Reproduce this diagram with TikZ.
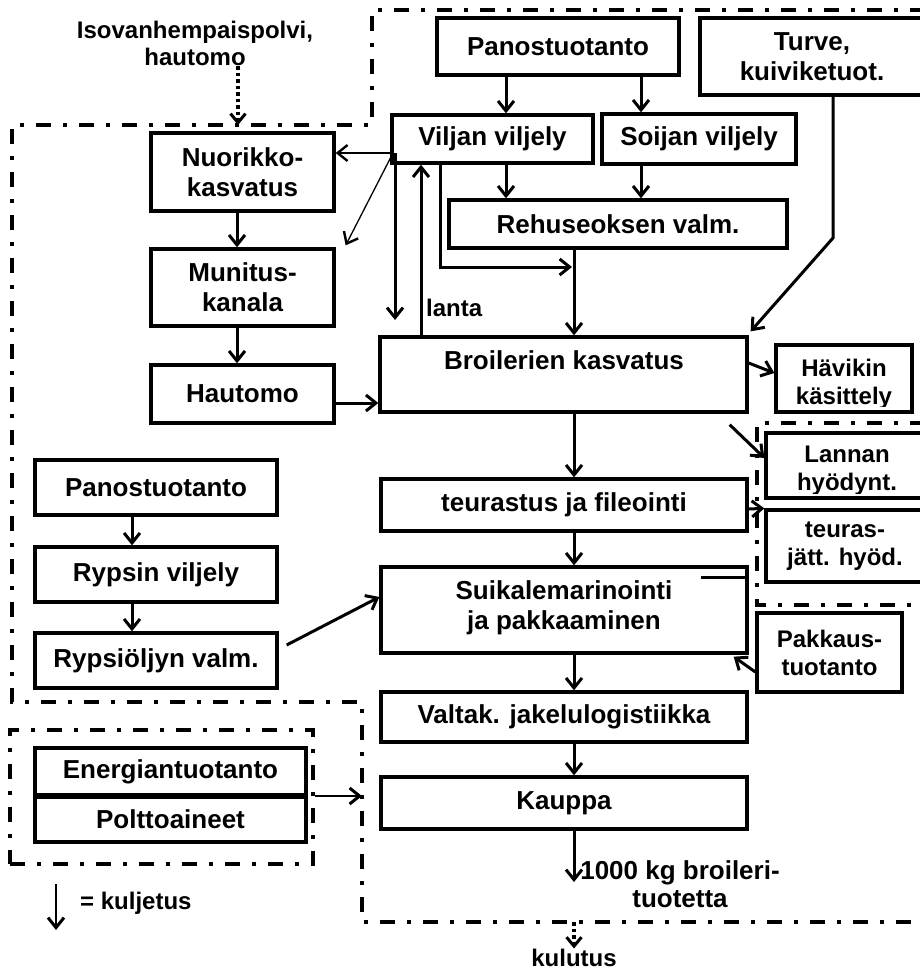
\documentclass[tikz,border=0pt]{standalone}
\usepackage{fontspec}
\setmainfont{Liberation Sans}
\usetikzlibrary{arrows.meta,calc}
\begin{document}
\begin{tikzpicture}[x=1pt,y=-1pt,
  box/.style={draw,line width=3.3pt,inner sep=0pt,align=center,font=\fontsize{26}{30}\selectfont\bfseries},
  sbox/.style={box,font=\fontsize{24}{28}\selectfont\bfseries},
  lbl/.style={inner sep=0pt,align=center,font=\fontsize{26}{30}\selectfont\bfseries},
  slbl/.style={inner sep=0pt,align=center,font=\fontsize{24}{27}\selectfont\bfseries},
  arr/.style={line width=3pt,-{Straight Barb[length=10pt,width=16pt,line width=3pt]}},
  thinarr/.style={line width=1.3pt,-{Straight Barb[length=10pt,width=16pt,line width=2.4pt]}},
  dotarr/.style={line width=3.5pt,dash pattern=on 3.5pt off 3pt,-{Straight Barb[length=9pt,width=15pt,line width=3pt]}},
  region/.style={line width=4pt,dash pattern=on 15pt off 12pt on 4pt off 12pt}]
\useasboundingbox (0,0) rectangle (920,971);
\clip (0,0) rectangle (920,971);

% helper coordinates
\coordinate (x506) at (506,0);
\coordinate (x641) at (641,0);
\coordinate (x574) at (574,0);
\coordinate (x440) at (440,0);
\coordinate (x421) at (421,0);
\coordinate (x395) at (395,0);
\coordinate (x237) at (237,0);
\coordinate (x238) at (238,0);
\coordinate (x132) at (132,0);
\coordinate (x833) at (833,0);
\coordinate (y363) at (0,363);
\coordinate (y373) at (0,373);
\coordinate (y403) at (0,403);
\coordinate (y458) at (0,458);
\coordinate (y509) at (0,509);
\coordinate (y577) at (0,577);
\coordinate (y672) at (0,672);

% system boundaries
\draw[region] (925,10) -- (372,10) -- (372,125) -- (12,125) -- (12,702) -- (362,702) -- (362,922) -- (925,922);
\draw[region] (925,423) -- (757,423) -- (757,605) -- (925,605);
\node[region,draw,minimum width=303pt,minimum height=134pt,inner sep=0pt] (eregion) at (161.5,797) {};
\coordinate (regtop) at (238,125);
\coordinate (regbot) at (574,922);
\coordinate (eTip) at (362,796);

% boxes
\node[box,minimum width=242pt,minimum height=57pt] (panosA) at (558,46.5) {Panostuotanto};
\node[box,minimum width=224pt,minimum height=77pt] (turve) at (812,56.5) {Turve,\\kuiviketuot.};
\node[box,minimum width=201pt,minimum height=48pt] (viljan) at (492.5,139) {Viljan viljely};
\node[box,minimum width=194pt,minimum height=50pt] (soijan) at (699,139) {Soijan viljely};
\node[box,minimum width=338pt,minimum height=48pt] (rehus) at (618,224) {Rehuseoksen valm.};
\node[box,minimum width=183pt,minimum height=78pt] (nuorikko) at (242.5,172) {Nuorikko-\\kasvatus};
\node[box,minimum width=183pt,minimum height=77pt] (munitus) at (242.5,287.5) {Munitus-\\kanala};
\node[box,minimum width=183pt,minimum height=58pt] (hautomo) at (242.5,394) {Hautomo};
\node[box,minimum width=367pt,minimum height=75pt] (broil) at (563.5,374.5) {};
\node[lbl,anchor=base] (broiltxt) at (564,369.3) {Broilerien kasvatus};
\node[box,minimum width=136pt,minimum height=67pt] (havikin) at (844,378.5) {};
\begin{scope}
  \clip (havikin.north west) rectangle ($(havikin.south east)+(0,-7)$);
  \node[slbl,anchor=base] (hav1) at (844,376) {Hävikin};
  \node[slbl,anchor=base] (hav2) at (844,404) {käsittely};
\end{scope}
\node[box,minimum width=158pt,minimum height=65pt] (lannan) at (845,465.5) {};
\begin{scope}
  \clip (lannan.north west) rectangle ($(lannan.south east)+(0,-6.5)$);
  \node[slbl,anchor=base] (lan1) at (847,462) {Lannan};
  \node[slbl,anchor=base] (lan2) at (847,490) {hyödynt.};
\end{scope}
\node[sbox,minimum width=158pt,minimum height=72pt] (teuras) at (845,546) {teuras-\\jätt. hyöd.};
\node[box,minimum width=366pt,minimum height=52pt] (teurastus) at (564,505) {teurastus ja fileointi};
\node[box,minimum width=366pt,minimum height=86pt] (suikale) at (564,610) {};
\node[lbl,anchor=base] (suik1) at (564,599.3) {Suikalemarinointi};
\node[lbl,anchor=base] (suik2) at (564,629.3) {ja pakkaaminen};
\node[sbox,minimum width=145pt,minimum height=79pt] (pakkaus) at (829.5,652.5) {Pakkaus-\\tuotanto};
\node[box,minimum width=366pt,minimum height=50pt] (valtak) at (564,717) {Valtak. jakelulogistiikka};
\node[box,minimum width=366pt,minimum height=52pt] (kauppa) at (564,803) {Kauppa};
\node[box,minimum width=242pt,minimum height=55pt] (panosB) at (156,487.5) {Panostuotanto};
\node[box,minimum width=242pt,minimum height=55pt] (rypsin) at (156,574.5) {Rypsin viljely};
\node[box,minimum width=242pt,minimum height=55pt] (rypsio) at (156,660.5) {Rypsiöljyn valm.};
\node[box,minimum width=271pt,minimum height=47pt] (energia) at (170.5,771.5) {Energiantuotanto};
\node[box,minimum width=271pt,minimum height=45pt] (poltto) at (170.5,819.5) {Polttoaineet};

% free texts
\node[slbl] (iso) at (195,43.5) {Isovanhempaispolvi,\\hautomo};
\node[slbl,anchor=west] (lanta) at (426,308) {lanta};
\node[lbl,font=\fontsize{26}{28}\selectfont\bfseries] (amount) at (680,884) {1000 kg broileri-\\tuotetta};
\node[slbl] (kulutus) at (574,957.5) {kulutus};
\node[slbl,anchor=west] (kulj) at (80,903) {= kuljetus};

% connectors
\draw[arr] (panosA.south -| x506) -- (viljan.north -| x506);
\draw[arr] (panosA.south -| x641) -- (soijan.north -| x641);
\draw[arr] (viljan.south -| x506) -- (rehus.north -| x506);
\draw[arr] (soijan.south -| x641) -- (rehus.north -| x641);
\draw[arr] (rehus.south -| x574) -- (broil.north -| x574);
\coordinate (join) at (572,267);
\draw[arr] (viljan.south -| x440) |- (join);
\coordinate (vs) at (393,153);
\coordinate (mdown) at (395,320);
\draw[arr] (vs -| x395) -- (mdown);
\draw[thinarr] (vs) -- (nuorikko.east |- vs);
\draw[thinarr] (vs) -- ($(munitus.north east)+(10,-2)$);
\draw[arr] (broil.north -| x421) -- (viljan.south -| x421);

\draw[arr] (nuorikko.south -| x237) -- (munitus.north -| x237);
\draw[arr] (munitus.south -| x237) -- (hautomo.north -| x237);
\draw[arr] (hautomo.east |- y403) -- (broil.west |- y403);

\coordinate (tbend) at (833,238);
\draw[arr] (turve.south -| x833) -- (tbend) -- ($(broil.north east)+(2,-4)$);
\draw[arr] (broil.east |- y363) -- (havikin.west |- y373);
\draw[arr] ($(broil.south east)+(-19,11)$) -- (lannan.west |- y458);
\draw[arr] (broil.south -| x574) -- (teurastus.north -| x574);
\draw[arr] (teurastus.east |- y509) -- (teuras.north west);
\draw[arr] (teurastus.south -| x574) -- (suikale.north -| x574);
\draw[arr] ($(rypsio.east)+(8,-15.5)$) -- ($(suikale.west)+(0,-13)$);
\draw[line width=3pt] (suikale.east |- y577) -- +(-48,0);
\draw[arr] (pakkaus.west |- y672) -- ($(suikale.south east)+(-15,2)$);
\draw[arr] (suikale.south -| x574) -- (valtak.north -| x574);
\draw[arr] (valtak.south -| x574) -- (kauppa.north -| x574);
\coordinate (out) at (574,882);
\draw[arr] (kauppa.south -| x574) -- (out);

\draw[arr] (panosB.south -| x132) -- (rypsin.north -| x132);
\draw[arr] (rypsin.south -| x132) -- (rypsio.north -| x132);
\draw[arr,line width=2.4pt] (eregion.east |- eTip) -- (eTip);

\coordinate (lg1) at (56,884);
\coordinate (lg2) at (56,930);
\draw[arr,line width=2.4pt] (lg1) -- (lg2);

\draw[dotarr] (iso.south -| x238) -- (regtop);
\draw[dotarr] (regbot) -- (kulutus.north);
\end{tikzpicture}
\end{document}
